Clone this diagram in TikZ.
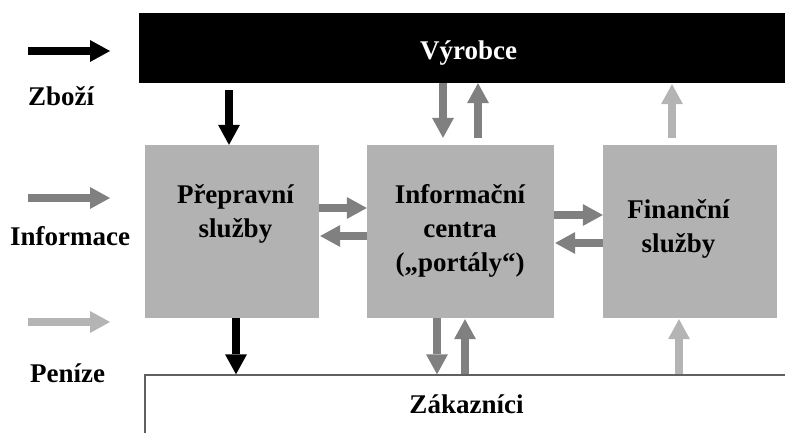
\documentclass[tikz,border=0pt]{standalone}
\usepackage{fontspec}
\setmainfont{Liberation Serif}
\usetikzlibrary{arrows.meta}
\definecolor{boxgray}{HTML}{B2B2B2}
\definecolor{infogray}{HTML}{808080}
\definecolor{moneygray}{HTML}{B4B4B4}
\definecolor{edgegray}{HTML}{606060}
\tikzset{
  lbl/.style={font=\fontsize{27pt}{34pt}\selectfont\bfseries, inner sep=0pt, align=center},
  svcbox/.style={fill=boxgray, draw=none, inner sep=0pt, minimum height=173pt},
  flow/.style={line width=7.5pt, -{Triangle[width=22pt,length=20pt,line width=0pt]}},
  goods/.style={flow, draw=black},
  infoflow/.style={flow, draw=infogray},
  money/.style={flow, draw=moneygray}
}
\begin{document}
\begin{tikzpicture}[x=1pt,y=-1pt]
\useasboundingbox (0,0) rectangle (785,432);

% producer bar and customer band
\node[fill=black, inner sep=0pt, minimum width=660pt, minimum height=70pt] (vyr) at (469,48) {};
\node[lbl, text=white, anchor=base] (vyrt) at (468.5,59) {Výrobce};
\node[draw=edgegray, line width=1.5pt, fill=white, inner sep=0pt, minimum width=644pt, minimum height=60pt] (zak) at (467,405) {};
\node[lbl, anchor=base] (zakt) at (466.5,413) {Zákazníci};

% service blocks (labels anchored on the baseline of their last line)
\node[svcbox, minimum width=174pt] (prep) at (232,231.5) {};
\node[svcbox, minimum width=187pt] (info) at (460.5,231.5) {};
\node[svcbox, minimum width=174pt] (fin) at (690,231.5) {};
\node[lbl, anchor=base] (prept) at (235.5,237) {Přepravní\\služby};
\node[lbl, anchor=base] (infot) at (460,271) {Informační\\centra\\(„portály“)};
\node[lbl, anchor=base] (fint) at (678.5,252) {Finanční\\služby};

% legend
\coordinate (lg1a) at (28,51);  \coordinate (lg1b) at (110,51);
\coordinate (lg2a) at (28,198); \coordinate (lg2b) at (110,198);
\coordinate (lg3a) at (28,322); \coordinate (lg3b) at (110,322);
\draw[goods] (lg1a) -- (lg1b);
\draw[infoflow] (lg2a) -- (lg2b);
\draw[money] (lg3a) -- (lg3b);
\node[lbl, anchor=base west] (lgz) at (28,105) {Zboží};
\node[lbl, anchor=base west] (lgi) at (10,245) {Informace};
\node[lbl, anchor=base west] (lgp) at (30,382) {Peníze};

% goods
\draw[goods] ([xshift=-3pt,yshift=-7pt]vyr.south -| prep.north) -- ([xshift=-3pt]prep.north);
\draw[goods] ([xshift=4pt]prep.south) -- ([xshift=4pt]prep.south |- zak.north);

% information
\draw[infoflow] ([xshift=-17.5pt]vyr.south -| info.north) -- ([xshift=-17.5pt,yshift=7pt]info.north);
\draw[infoflow] ([xshift=17.5pt,yshift=7pt]info.north) -- ([xshift=17.5pt]vyr.south -| info.north);
\draw[infoflow] ([xshift=-23.5pt]info.south) -- ([xshift=-23.5pt]info.south |- zak.north);
\draw[infoflow] ([xshift=4.5pt]info.south |- zak.north) -- ([xshift=4.5pt,yshift=-1pt]info.south);
\draw[infoflow] ([yshift=23.5pt]prep.east) -- ([yshift=23.5pt]info.west);
\draw[infoflow] ([yshift=-4.5pt]info.west) -- ([yshift=-4.5pt,xshift=1pt]prep.east);
\draw[infoflow] ([yshift=16.5pt]info.east) -- ([yshift=16.5pt]fin.west);
\draw[infoflow] ([yshift=-11.5pt]fin.west) -- ([yshift=-11.5pt,xshift=1pt]info.east);

% money
\draw[money] ([xshift=-18pt,yshift=7pt]fin.north) -- ([xshift=-18pt,yshift=-1pt]vyr.south -| fin.north);
\draw[money] ([xshift=-11pt]fin.south |- zak.north) -- ([xshift=-11pt,yshift=-1pt]fin.south);
\end{tikzpicture}
\end{document}
